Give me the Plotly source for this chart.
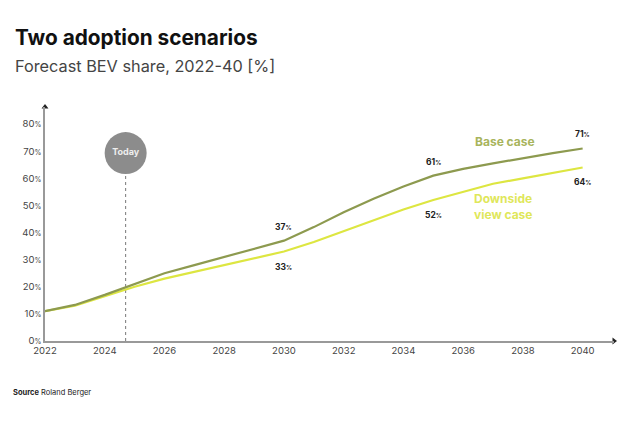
import plotly.graph_objects as go

years = list(range(2022, 2041))
base_case = [11, 13.3, 17, 21, 25, 28, 31, 34, 37, 42, 47.5, 52.5, 57, 61, 63.5, 65.5, 67.5, 69.3, 71]
downside = [11, 13, 16.5, 20, 23, 25.5, 28, 30.5, 33, 36.5, 40.5, 44.5, 48.5, 52, 55, 58, 60, 62, 64]
label_years = [2030, 2035, 2040]
y_ticks = [0, 10, 20, 30, 40, 50, 60, 70, 80]
x_ticks = list(range(2022, 2041, 2))
today_x = 2024.7

BASE_COL = "#8d9a4f"
DOWN_COL = "#dde641"
BASE_TXT = "#a8b45c"
DOWN_TXT = "#dfe75a"
FONT = "Inter"
XMAX = 2041.05
YMAX = 86.3

fig = go.Figure()

fig.add_trace(go.Scatter(x=years, y=downside, mode="lines",
                         line=dict(color=DOWN_COL, width=2.2), hoverinfo="skip"))
fig.add_trace(go.Scatter(x=years, y=base_case, mode="lines",
                         line=dict(color=BASE_COL, width=2.2), hoverinfo="skip"))

# Today dotted line
fig.add_shape(type="line", x0=today_x, x1=today_x, y0=0, y1=61.5,
              line=dict(color="#777777", width=1, dash="dot"), layer="below")
# Today bubble
fig.add_trace(go.Scatter(x=[today_x], y=[69.3], mode="markers+text",
                         marker=dict(size=42, color="#8c8c8c"),
                         text=["<b>Today</b>"], textposition="middle center",
                         textfont=dict(color="#eeeeee", size=9, family=FONT),
                         hoverinfo="skip", cliponaxis=False))

# axis arrows
fig.add_trace(go.Scatter(x=[2022], y=[YMAX], mode="markers",
                         marker=dict(symbol="triangle-up", size=6, color="#222"),
                         cliponaxis=False, hoverinfo="skip"))
fig.add_trace(go.Scatter(x=[XMAX], y=[0], mode="markers",
                         marker=dict(symbol="triangle-right", size=6, color="#222"),
                         cliponaxis=False, hoverinfo="skip"))

def pct(v):
    return f"<b>{v}<span style='font-size:6px'>%</span></b>"

for yr in label_years:
    i = years.index(yr)
    b = base_case[i]
    d = downside[i]
    fig.add_annotation(x=yr, y=b, text=pct(int(round(b))), showarrow=False,
                       yshift=14, font=dict(size=8.5, color="#222", family=FONT))
    fig.add_annotation(x=yr, y=d, text=pct(int(round(d))), showarrow=False,
                       yshift=-15, font=dict(size=8.5, color="#222", family=FONT))

fig.add_annotation(x=2037.4, y=73.5, text="<b>Base case</b>", showarrow=False,
                   font=dict(size=12, color=BASE_TXT, family=FONT))
fig.add_annotation(x=2036.3, y=49.5, text="<b>Downside<br>view case</b>", showarrow=False,
                   xanchor="left", align="left",
                   font=dict(size=12, color=DOWN_TXT, family=FONT))

fig.add_annotation(xref="paper", yref="paper", x=-0.056, y=1.295, xanchor="left", yanchor="middle",
                   text="<b>Two adoption scenarios</b>", showarrow=False,
                   font=dict(size=20.8, color="#111", family=FONT))
fig.add_annotation(xref="paper", yref="paper", x=-0.056, y=1.175, xanchor="left", yanchor="middle",
                   text="Forecast BEV share, 2022-40 [%]", showarrow=False,
                   font=dict(size=16.3, color="#444", family=FONT))
fig.add_annotation(xref="paper", yref="paper", x=-0.06, y=-0.218, xanchor="left", yanchor="middle",
                   text="<b>Source</b> Roland Berger", showarrow=False,
                   font=dict(size=7.5, color="#222", family=FONT))

fig.update_layout(
    width=640, height=426,
    margin=dict(l=45, r=26, t=107, b=85),
    paper_bgcolor="white", plot_bgcolor="white",
    showlegend=False,
    font=dict(family=FONT),
    xaxis=dict(range=[2022, XMAX], tickvals=x_ticks, ticktext=[str(t) for t in x_ticks],
               showgrid=False, zeroline=False, showline=True, linecolor="#999999", linewidth=1.5,
               ticks="", tickfont=dict(size=9.5, color="#444"), fixedrange=True),
    yaxis=dict(range=[0, YMAX], tickvals=y_ticks,
               ticktext=[f"{t}<span style='font-size:7px'>%</span>" for t in y_ticks],
               showgrid=False, zeroline=False, showline=True, linecolor="#999999", linewidth=1.5,
               ticks="", tickfont=dict(size=9.5, color="#444"), fixedrange=True),
)

fig.write_html("out.html")
